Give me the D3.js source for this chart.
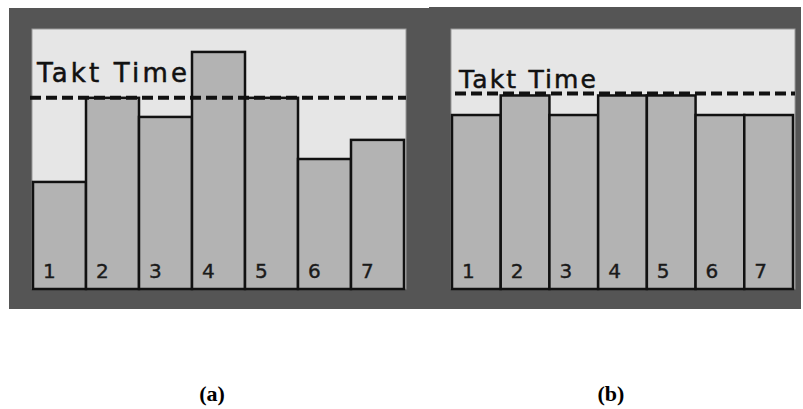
<!DOCTYPE html>
<html>
<head>
<meta charset="utf-8">
<script src="https://cdn.jsdelivr.net/npm/d3@7"></script>
<style>
  html, body { margin: 0; padding: 0; background: #ffffff; }
  svg { display: block; }
</style>
</head>
<body>
<svg id="chart" width="803" height="409"></svg>
<script>
// ---- data ----
const stations = ["1", "2", "3", "4", "5", "6", "7"];
const cycleTimesA = [56, 100, 90, 124, 100, 68, 78];   // (a) unbalanced line
const cycleTimesB = [89, 99, 89, 99, 99, 89, 89];       // (b) balanced line
const taktTimeA = 100;
const taktTimeB = 100;
const taktLabel = "Takt Time";
const captions = ["(a)", "(b)"];

const svg = d3.select("#chart");

// dark backgrounds
svg.append("rect").attr("x", 9).attr("y", 8).attr("width", 421).attr("height", 301).attr("fill", "#555555");
svg.append("rect").attr("x", 429).attr("y", 7).attr("width", 372).attr("height", 302).attr("fill", "#555555");

function panel(cfg) {
  const g = svg.append("g");
  // light plot area
  g.append("rect")
    .attr("x", cfg.px0).attr("y", 29)
    .attr("width", cfg.px1 - cfg.px0).attr("height", 289 - 29)
    .attr("fill", "#e6e6e6")
    .attr("stroke", "#9a9a9a").attr("stroke-width", 1);

  const x = d3.scaleBand().domain(stations).range([cfg.bx0, cfg.bx1]).padding(0);
  const y = d3.scaleLinear().domain([0, cfg.yMax]).range([289, 29]);

  g.selectAll("rect.bar").data(cfg.values).join("rect")
    .attr("class", "bar")
    .attr("x", (d, i) => x(stations[i]))
    .attr("y", d => y(d))
    .attr("width", x.bandwidth())
    .attr("height", d => y(0) - y(d))
    .attr("fill", "#b3b3b3")
    .attr("stroke", "#111111")
    .attr("stroke-width", 2.5);

  g.selectAll("text.lbl").data(stations).join("text")
    .attr("class", "lbl")
    .attr("x", d => x(d) + 10)
    .attr("y", 278)
    .attr("font-family", "DejaVu Sans, sans-serif")
    .attr("font-size", 20)
    .attr("fill", "#1a1a1a")
    .attr("stroke", "#1a1a1a")
    .attr("stroke-width", 0.4)
    .text(d => d);

  // takt line
  g.append("line")
    .attr("x1", cfg.lx0).attr("x2", cfg.lx1)
    .attr("y1", y(cfg.takt)).attr("y2", y(cfg.takt))
    .attr("stroke", "#111111")
    .attr("stroke-width", 4)
    .attr("stroke-dasharray", "11,5");

  g.append("text")
    .attr("x", cfg.tx)
    .attr("y", cfg.ty)
    .attr("font-family", "DejaVu Sans, sans-serif")
    .attr("font-size", cfg.tsize)
    .attr("textLength", cfg.tlen)
    .attr("lengthAdjust", "spacing")
    .attr("fill", "#111111")
    .attr("stroke", "#111111")
    .attr("stroke-width", 0.5)
    .text(taktLabel);

  svg.append("text")
    .attr("x", cfg.cx).attr("y", 401)
    .attr("text-anchor", "middle")
    .attr("font-family", "Liberation Serif, Times New Roman, serif")
    .attr("font-weight", "bold")
    .attr("font-size", 22)
    .attr("fill", "#000")
    .text(cfg.caption);
}

panel({ px0: 32, px1: 406, bx0: 33, bx1: 404, yMax: 136, values: cycleTimesA, takt: taktTimeA,
        lx0: 30, lx1: 406, tx: 37, ty: 82, tsize: 26, tlen: 150, cx: 212, caption: captions[0] });
panel({ px0: 451, px1: 795, bx0: 452, bx1: 793, yMax: 133, values: cycleTimesB, takt: taktTimeB,
        lx0: 455, lx1: 795, tx: 459, ty: 88, tsize: 25, tlen: 137, cx: 611, caption: captions[1] });
</script>
</body>
</html>
